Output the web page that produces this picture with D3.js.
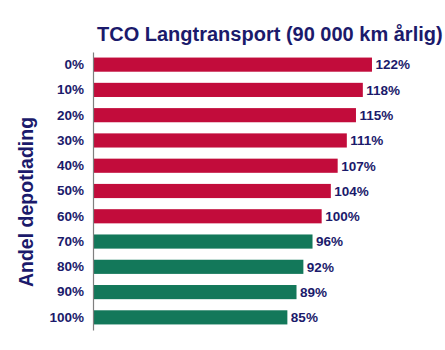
<!DOCTYPE html>
<html>
<head>
<meta charset="utf-8">
<script src="https://cdn.jsdelivr.net/npm/d3@7"></script>
<style>
  html, body { margin: 0; padding: 0; background: #fff; }
  svg { display: block; font-family: "Liberation Sans", Arial, sans-serif; }
</style>
</head>
<body>
<svg id="chart" width="445" height="350"></svg>
<script>
// Share of depot charging and resulting TCO index
const categories = ["0%", "10%", "20%", "30%", "40%", "50%", "60%", "70%", "80%", "90%", "100%"];
const tcoValues = [122, 118, 115, 111, 107, 104, 100, 96, 92, 89, 85];
const valueLabels = ["122%", "118%", "115%", "111%", "107%", "104%", "100%", "96%", "92%", "89%", "85%"];

const RED = "#c20c3b";
const GREEN = "#13785a";
const NAVY = "#1b1a6b";

const svg = d3.select("#chart");

const x = d3.scaleLinear().domain([0, 150]).range([93, 436]);
const y = d3.scaleBand().domain(categories).range([52, 330]).paddingInner(0.44).paddingOuter(0.22);

// Bars: cost above parity in red, below parity in green
svg.append("g")
  .selectAll("rect")
  .data(tcoValues)
  .join("rect")
  .attr("x", x(0))
  .attr("y", (d, i) => y(categories[i]))
  .attr("width", d => x(d) - x(0))
  .attr("height", y.bandwidth())
  .attr("fill", d => d >= 100 ? RED : GREEN);

// Value labels at bar ends
svg.append("g")
  .selectAll("text")
  .data(tcoValues)
  .join("text")
  .attr("x", d => x(d) + 3.5)
  .attr("y", (d, i) => y(categories[i]) + y.bandwidth() / 2)
  .attr("dy", "0.36em")
  .attr("fill", NAVY)
  .attr("font-size", 13.5)
  .attr("font-weight", "bold")
  .text((d, i) => valueLabels[i]);

// Category axis
const yAxis = svg.append("g")
  .attr("transform", `translate(${x(0)},0)`)
  .call(d3.axisLeft(y).tickSize(0).tickPadding(9));
yAxis.select(".domain").attr("stroke", "#7f7f7f").attr("stroke-width", 1.2);
yAxis.selectAll("text")
  .attr("fill", NAVY)
  .attr("font-size", 13.5)
  .attr("font-weight", "bold")
  .attr("font-family", "Liberation Sans, Arial, sans-serif");

// Title
svg.append("text")
  .attr("x", 97)
  .attr("y", 41)
  .attr("fill", NAVY)
  .attr("font-size", 20)
  .attr("font-weight", "bold")
  .text("TCO Langtransport (90 000 km årlig)");

// Axis title
svg.append("text")
  .attr("transform", "translate(33,202) rotate(-90)")
  .attr("text-anchor", "middle")
  .attr("fill", NAVY)
  .attr("font-size", 19.5)
  .attr("font-weight", "bold")
  .text("Andel depotlading");
</script>
</body>
</html>
